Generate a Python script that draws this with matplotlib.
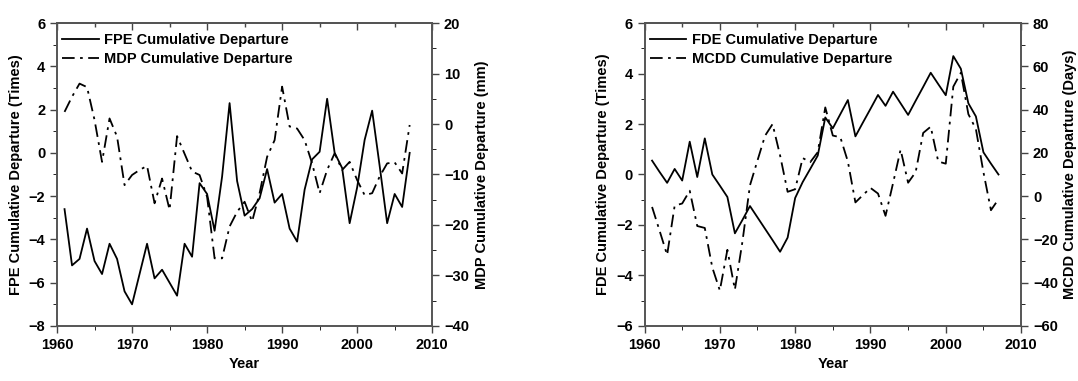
import numpy as np
import matplotlib
matplotlib.use("Agg")
import matplotlib.pyplot as plt
from matplotlib.ticker import MultipleLocator, NullFormatter

plt.rcParams['font.family'] = ['Liberation Sans', 'DejaVu Sans']
plt.rcParams['font.weight'] = 'bold'
plt.rcParams['axes.labelweight'] = 'bold'

years = np.arange(1961, 2008)

# left panel
fpe = [-2.6, -5.2, -4.9, -3.5, -5.0, -5.6, -4.2, -4.9, -6.4, -7.0,
       -5.6, -4.2, -5.8, -5.4, -6.0, -6.6, -4.2, -4.8, -1.4, -1.9,
       -3.6, -1.1, 2.3, -1.3, -2.9, -2.6, -2.1, -0.75, -2.3, -1.9,
       -3.5, -4.1, -1.7, -0.3, 0.05, 2.5, 0.0, -0.7, -3.25, -1.6,
       0.6, 1.95, -0.6, -3.25, -1.9, -2.5, 0.0]
mdp = [2.4, 5.4, 8.0, 7.3, 0.8, -7.5, 1.1, -2.5, -12.1, -10.1,
       -9.1, -8.3, -15.7, -10.8, -17.0, -2.4, -5.9, -9.4, -10.1, -14.4,
       -26.6, -26.6, -20.3, -17.4, -15.4, -19.3, -13.7, -6.5, -3.2, 7.4,
       -0.5, -0.9, -3.2, -7.8, -13.7, -9.1, -5.8, -9.1, -7.5, -11.1,
       -14.1, -13.7, -10.4, -7.8, -7.6, -9.8, -0.2]

# right panel
fde = [0.55, 0.1, -0.33, 0.22, -0.24, 1.3, -0.1, 1.43, 0.0, -0.44,
       -0.89, -2.33, -1.8, -1.25, -1.7, -2.15, -2.6, -3.06, -2.5, -0.93,
       -0.3, 0.22, 0.75, 2.26, 1.83, 2.39, 2.95, 1.51, 2.06, 2.6,
       3.15, 2.72, 3.28, 2.82, 2.36, 2.92, 3.47, 4.03, 3.58, 3.14,
       4.69, 4.19, 2.82, 2.3, 0.88, 0.43, 0.0]
mcdd = [-5.0, -16.0, -27.2, -4.4, -3.4, 2.5, -13.8, -14.7, -33.0, -43.6,
        -24.8, -43.2, -21.0, 5.0, 16.5, 27.9, 33.3, 18.8, 2.0, 3.2,
        17.6, 15.7, 20.3, 41.0, 28.0, 27.2, 16.0, -2.9, 0.5, 3.8,
        1.2, -9.1, 6.0, 21.5, 6.2, 11.1, 29.2, 32.1, 16.0, 15.0,
        50.6, 57.0, 37.9, 31.0, 11.1, -6.5, -1.4]

dashdot = (0, (7, 3, 1.5, 3))
lw = 1.3
fs = 10.5

fig = plt.figure(figsize=(10.78, 3.81), dpi=100)


def style_axes(ax, ax2, ymaj, ymin, y2maj, y2min):
    ax.set_xlim(1960, 2010)
    ax.xaxis.set_major_locator(MultipleLocator(10))
    ax.xaxis.set_minor_locator(MultipleLocator(5))
    ax.yaxis.set_major_locator(MultipleLocator(ymaj))
    ax.yaxis.set_minor_locator(MultipleLocator(ymin))
    ax2.yaxis.set_major_locator(MultipleLocator(y2maj))
    ax2.yaxis.set_minor_locator(MultipleLocator(y2min))
    for a in (ax, ax2):
        a.tick_params(which='major', length=5, direction='out')
        a.tick_params(which='minor', length=3, direction='out')
        a.tick_params(labelsize=fs, width=1.0, color='#444444')
        for s in a.spines.values():
            s.set_linewidth(1.2)
            s.set_color('#555555')
    # top axis ticks point inward
    top = ax.secondary_xaxis('top')
    top.xaxis.set_major_locator(MultipleLocator(10))
    top.xaxis.set_minor_locator(MultipleLocator(5))
    top.xaxis.set_major_formatter(NullFormatter())
    top.tick_params(which='major', length=5, direction='in', width=1.0, color='#444444')
    top.tick_params(which='minor', length=3, direction='in', width=1.0, color='#444444')
    top.spines['top'].set_linewidth(1.2)
    top.spines['top'].set_color('#555555')
    ax.set_xlabel('Year', fontsize=fs, fontweight='bold')


def add_legend(ax, handles):
    ax.legend(handles, [h.get_label() for h in handles], loc='upper left',
              frameon=False, fontsize=fs, handlelength=2.5,
              borderaxespad=0.1, labelspacing=0.3, handletextpad=0.35,
              bbox_to_anchor=(-0.005, 0.99))


# left panel
ax1 = fig.add_axes([0.0529, 0.1444, 0.348, 0.7952])
ax1b = ax1.twinx()
l1, = ax1.plot(years, fpe, color='black', lw=lw, label='FPE Cumulative Departure')
l2, = ax1b.plot(years, mdp, color='black', lw=lw, linestyle=dashdot,
                label='MDP Cumulative Departure')
ax1.set_ylim(-8, 6)
ax1b.set_ylim(-40, 20)
style_axes(ax1, ax1b, 2, 1, 10, 5)
ax1.set_ylabel('FPE Cumulative Departure (Times)', fontsize=fs, fontweight='bold')
ax1b.set_ylabel('MDP Cumulative Departure (mm)', fontsize=fs, fontweight='bold')
add_legend(ax1, [l1, l2])

# right panel
ax2 = fig.add_axes([0.5979, 0.1444, 0.3493, 0.7952])
ax2b = ax2.twinx()
l3, = ax2.plot(years, fde, color='black', lw=lw, label='FDE Cumulative Departure')
l4, = ax2b.plot(years, mcdd, color='black', lw=lw, linestyle=dashdot,
                label='MCDD Cumulative Departure')
ax2.set_ylim(-6, 6)
ax2b.set_ylim(-60, 80)
style_axes(ax2, ax2b, 2, 1, 20, 10)
ax2.set_ylabel('FDE Cumulative Departure (Times)', fontsize=fs, fontweight='bold')
ax2b.set_ylabel('MCDD Cumulative Departure (Days)', fontsize=fs, fontweight='bold')
add_legend(ax2, [l3, l4])

fig.savefig('out.png', dpi=100)
